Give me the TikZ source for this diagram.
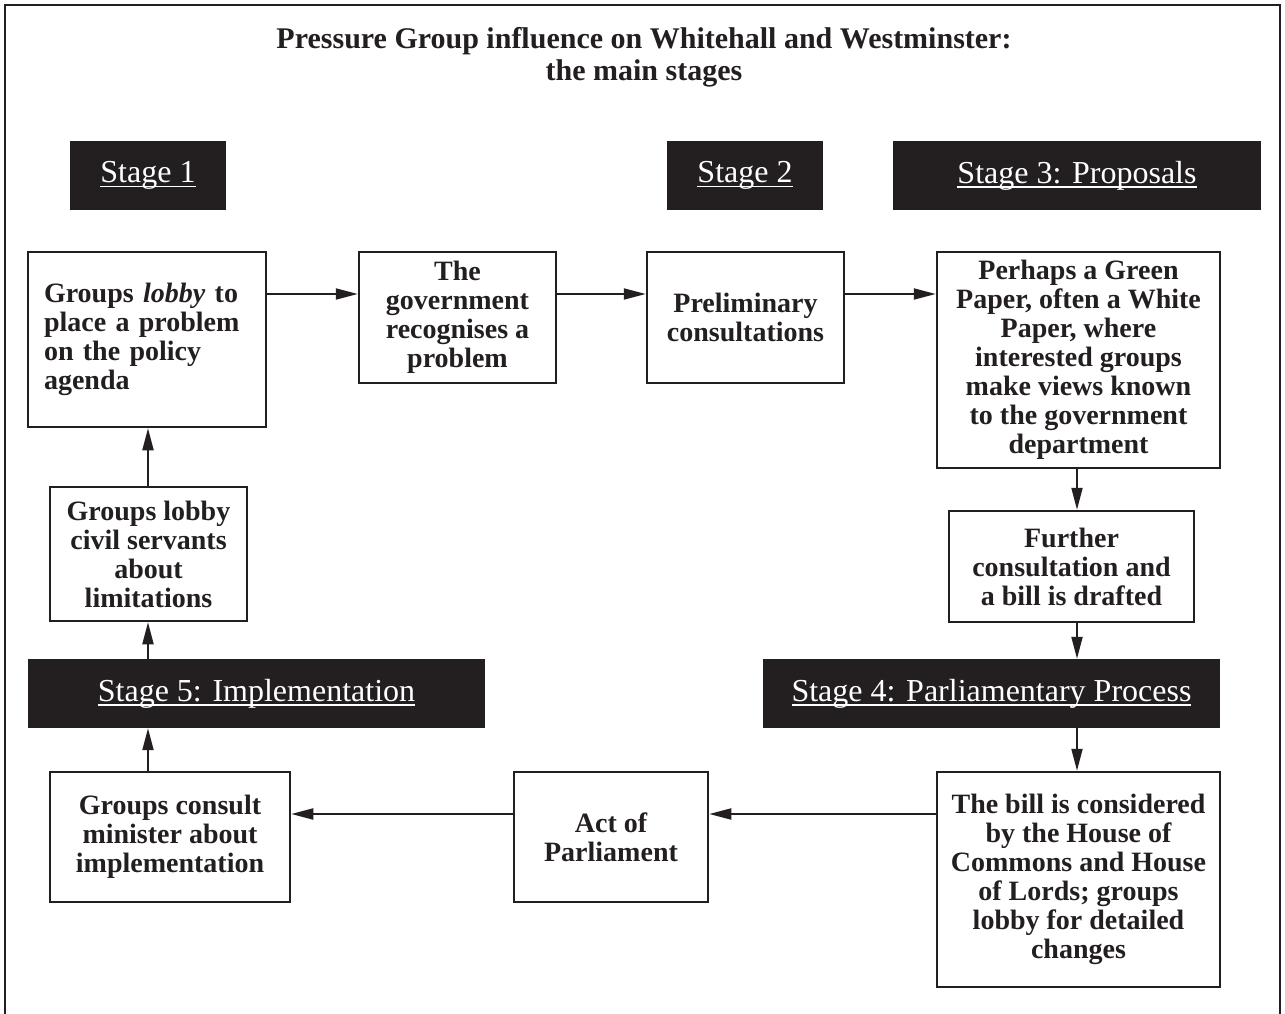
\documentclass[tikz,border=0pt]{standalone}
\usepackage{fontspec}
\setmainfont{Liberation Serif}
\usetikzlibrary{arrows.meta}
\definecolor{ink}{HTML}{231F20}
\newcommand\stul[1]{\setbox0=\hbox{#1}\rlap{\rule[-4.5pt]{\wd0}{1.4pt}}\box0}
\newcommand\boxfnt{\fontsize{28}{29}\selectfont\bfseries}
\newcommand\stagefnt{\fontsize{32}{36}\selectfont}
\newcommand\titlefnt{\fontsize{30}{32}\selectfont\bfseries}
\begin{document}
\begin{tikzpicture}[x=1pt,y={(0pt,-1pt)},
  box/.style={draw=ink, line width=2.5pt, text=ink, font=\boxfnt, align=center, inner sep=0pt},
  stagebox/.style={fill=ink, text=white, font=\stagefnt, inner sep=0pt, minimum height=69pt},
  arr/.style={draw=ink, line width=2pt, -{Triangle[length=22pt,width=11pt]}}]
\useasboundingbox (0,0) rectangle (1285,1014);
\fill[white] (0,0) rectangle (1285,1014);
% frame (bottom edge lies outside the picture)
\draw[ink, line width=2.5pt] (5,1014) -- (5,5) -- (1280,5) -- (1280,1014);
% title
\node[font=\titlefnt, text=ink, align=center, inner sep=0pt, anchor=north] (title) at (644,27)
  {Pressure Group influence on Whitehall and Westminster:\\the main stages};
% stage labels
\node[stagebox, minimum width=156pt] (s1) at (148,175.5) {\stul{Stage 1}};
\node[stagebox, minimum width=156pt] (s2) at (745,175.5) {\stul{Stage 2}};
\node[stagebox, minimum width=368pt] (s3) at (1077,175.5) {\stul{Stage 3: Proposals}};
\node[stagebox, minimum width=457pt] (s4) at (991.5,693.5) {\stul{Stage 4: Parliamentary Process}};
\node[stagebox, minimum width=457pt] (s5) at (256.5,693.5) {\stul{Stage 5: Implementation}};
% process boxes
\node[box, minimum height=175pt, text width=206pt, align=left, inner xsep=16pt] (b1) at (147,339.5)
  {Groups \textit{lobby} to\\place a problem\\on the policy\\agenda};
\node[box, minimum width=197pt, minimum height=131pt] (b2) at (457.5,317.5)
  {The\\government\\recognises a\\problem};
\node[box, minimum width=197pt, minimum height=131pt] (b3) at (745.5,317.5)
  {Preliminary\\consultations};
\node[box, minimum width=283pt, minimum height=216pt] (b4) at (1078.5,360)
  {Perhaps a Green\\Paper, often a White\\Paper, where\\interested groups\\make views known\\to the government\\department};
\node[box, minimum width=245pt, minimum height=111pt] (b5) at (1071.5,566.5)
  {Further\\consultation and\\a bill is drafted};
\node[box, minimum width=283pt, minimum height=215pt] (bill) at (1078.5,879.5)
  {The bill is considered\\by the House of\\Commons and House\\of Lords; groups\\lobby for detailed\\changes};
\node[box, minimum width=194pt, minimum height=130pt] (act) at (611,837)
  {Act of\\Parliament};
\node[box, minimum width=240pt, minimum height=130pt] (cons) at (170,837)
  {Groups consult\\minister about\\implementation};
\node[box, minimum width=197pt, minimum height=134pt] (civ) at (148.5,554)
  {Groups lobby\\civil servants\\about\\limitations};
% guide coordinates for connector lines
\coordinate (rowA) at (0,294);
\coordinate (rowB) at (0,814);
\coordinate (colL) at (148,0);
\coordinate (colR) at (1077,0);
% connectors
\draw[arr] (b1.east |- rowA) -- (b2.west |- rowA);
\draw[arr] (b2.east |- rowA) -- (b3.west |- rowA);
\draw[arr] (b3.east |- rowA) -- (b4.west |- rowA);
\draw[arr] (colR |- b4.south) -- (colR |- b5.north);
\draw[arr] (colR |- b5.south) -- (colR |- s4.north);
\draw[arr] (colR |- s4.south) -- (colR |- bill.north);
\draw[arr] (bill.west |- rowB) -- (act.east |- rowB);
\draw[arr] (act.west |- rowB) -- (cons.east |- rowB);
\draw[arr] (colL |- cons.north) -- (colL |- s5.south);
\draw[arr] (colL |- s5.north) -- (colL |- civ.south);
\draw[arr] (colL |- civ.north) -- (colL |- b1.south);
\end{tikzpicture}
\end{document}
